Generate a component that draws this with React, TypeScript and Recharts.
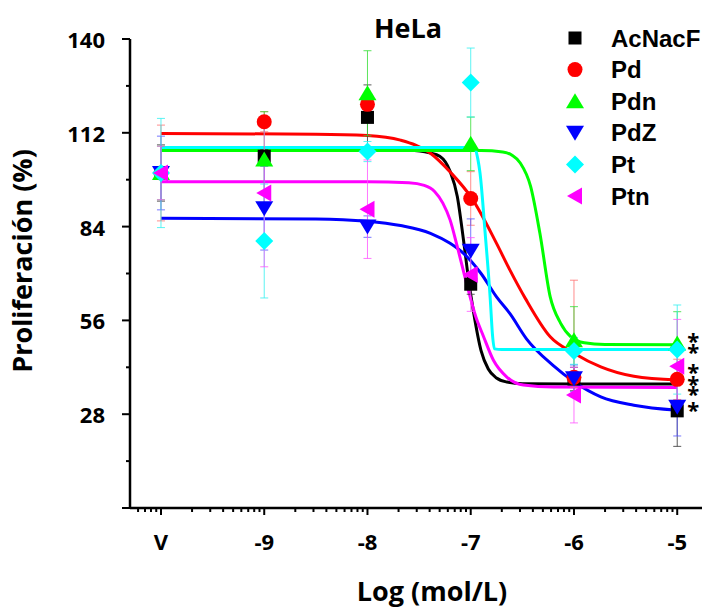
import React from 'react';
import { ComposedChart, Line, Scatter, XAxis, YAxis, ErrorBar } from 'recharts';

// log concentration (V = vehicle, drawn at -10)
const doses = [-10, -9, -8, -7, -6, -5];
const xTickLabels = ['V', '-9', '-8', '-7', '-6', '-5'];
const yMajorTicks = [0, 28, 56, 84, 112, 140];
const yMinorTicks = [14, 42, 70, 98, 126];

// means and SEM per dose ([below, above] where the bar is lopsided)
const acnacfMean = [100, 105, 116.6, 66.8, 38.5, 29];
const acnacfErr = [8.4, 2, 9.7, 3, 3.5, 10.6];
const pdMean = [100, 115.3, 120.5, 92.4, 39, 38.4];
const pdErr: (number | number[])[] = [14.3, 3, 3, 8, [3, 29], 6];
const pdnMean = [100, 104, 123.8, 108.7, 50.1, 49.1];
const pdnErr = [8, 14.3, 12.7, 8, 10, 9.5];
const pdzMean = [100, 89.5, 84, 76.8, 38.7, 30.2];
const pdzErr = [11, 12.5, 3.2, 9.5, 4, 8.7];
const ptMean = [100, 79.7, 106.4, 127, 46.9, 47.3];
const ptErr = [16.3, 17, 3, 10.3, 4, 13.3];
const ptnMean = [100, 94, 89.2, 69.7, 33.7, 42.3];
const ptnErr = [8, 22, 14.7, 11, 8.3, 14];

// fitted curves
const acnacfCurve = [[-10, 107], [-8, 107], [-7.6, 106.8], [-7.4, 106], [-7.3, 105], [-7.2, 100.5], [-7.13, 93], [-7.07, 80], [-7.02, 68], [-6.97, 58], [-6.9, 47], [-6.83, 41.5], [-6.75, 38.8], [-6.65, 37.6], [-6.5, 37.1], [-6, 37], [-5, 37]];
const pdCurve = [[-10, 111.8], [-8.5, 111.6], [-8, 111.2], [-7.68, 109.8], [-7.39, 105.9], [-7.19, 100], [-6.99, 92.5], [-6.75, 79], [-6.62, 71], [-6.47, 62.5], [-6.23, 51.1], [-6, 46.2], [-5.74, 42.1], [-5.42, 39.3], [-5, 38.2]];
const pdnCurve = [[-10, 106.7], [-6.9, 106.7], [-6.69, 106.3], [-6.6, 105.3], [-6.52, 103], [-6.42, 96], [-6.33, 82], [-6.23, 63], [-6.13, 55.2], [-6.03, 51.1], [-5.9, 49.3], [-5.7, 48.8], [-5, 48.7]];
const pdzCurve = [[-10, 86.5], [-8.5, 86.3], [-8, 85.6], [-7.68, 84.3], [-7.39, 82], [-7.2, 79], [-7.07, 76], [-6.9, 70], [-6.75, 63], [-6.62, 58], [-6.46, 50.5], [-6.2, 42.5], [-6, 37.7], [-5.74, 33.2], [-5.42, 30.7], [-5, 29.2]];
const ptCurve = [[-10, 107.6], [-7, 107.6], [-6.96, 107.3], [-6.93, 104], [-6.91, 100], [-6.86, 82], [-6.81, 62], [-6.79, 52], [-6.77, 47.5], [-6.7, 47.3], [-5, 47.3]];
const ptnCurve = [[-10, 97.4], [-8, 97.4], [-7.6, 97.1], [-7.45, 96.3], [-7.35, 94.5], [-7.27, 91], [-7.2, 86], [-7.13, 78], [-7.04, 67], [-6.95, 57], [-6.88, 51.5], [-6.78, 44.1], [-6.65, 39.1], [-6.49, 36.7], [-6.2, 36.1], [-5, 36]];

// significance marks next to the last dose
const starLevels = [51, 47.7, 41.7, 38.1, 35.1, 30.4];

const series = [
  { name: 'AcNacF', color: '#000000', errColor: '#333333', kind: 'square', mean: acnacfMean, err: acnacfErr, curve: acnacfCurve },
  { name: 'Pd', color: '#ff0000', errColor: '#ff7070', kind: 'circle', mean: pdMean, err: pdErr, curve: pdCurve },
  { name: 'Pdn', color: '#00ff00', errColor: '#33dd33', kind: 'up', mean: pdnMean, err: pdnErr, curve: pdnCurve },
  { name: 'PdZ', color: '#0000ff', errColor: '#5555ff', kind: 'down', mean: pdzMean, err: pdzErr, curve: pdzCurve },
  { name: 'Pt', color: '#00ffff', errColor: '#33f0f0', kind: 'diamond', mean: ptMean, err: ptErr, curve: ptCurve },
  { name: 'Ptn', color: '#ff00ff', errColor: '#ff55ff', kind: 'left', mean: ptnMean, err: ptnErr, curve: ptnCurve },
];

const xMinorTicks: number[] = [];
for (let d = -11; d <= -5; d++) {
  for (let k = 2; k <= 9; k++) {
    const v = d + Math.log10(k);
    if (v > -10.3 && v < -4.76) xMinorTicks.push(v);
  }
}

const FONT = '"Open Sans", sans-serif';

function Marker({ kind, cx, cy, color }: any) {
  switch (kind) {
    case 'square':
      return <rect x={cx - 6.5} y={cy - 6.5} width={13} height={13} fill={color} />;
    case 'circle':
      return <circle cx={cx} cy={cy} r={7.5} fill={color} />;
    case 'up':
      return <polygon points={`${cx - 9},${cy + 7} ${cx + 9},${cy + 7} ${cx},${cy - 8}`} fill={color} />;
    case 'down':
      return <polygon points={`${cx - 9},${cy - 7} ${cx + 9},${cy - 7} ${cx},${cy + 8}`} fill={color} />;
    case 'diamond':
      return <polygon points={`${cx},${cy - 9} ${cx + 9},${cy} ${cx},${cy + 9} ${cx - 9},${cy}`} fill={color} />;
    case 'left':
      return <polygon points={`${cx + 7},${cy - 8.5} ${cx + 7},${cy + 8.5} ${cx - 8},${cy}`} fill={color} />;
    default:
      return null;
  }
}

const XTick = ({ x, y, payload }: any) => {
  const idx = doses.indexOf(payload.value);
  const major = idx >= 0;
  return (
    <g>
      <line x1={x} x2={x} y1={y} y2={y + (major ? 7 : 4)} stroke="#000" strokeWidth={2} />
      {major && (
        <text x={x} y={y + 42} textAnchor="middle" fontFamily={FONT} fontWeight={700} fontSize={22} fill="#000">
          {xTickLabels[idx]}
        </text>
      )}
    </g>
  );
};

const YTick = ({ x, y, payload }: any) => {
  const v = payload.value;
  const major = yMajorTicks.includes(v);
  return (
    <g>
      <line x1={x - (major ? 8 : 4)} x2={x} y1={y} y2={y} stroke="#000" strokeWidth={2} />
      {major && v > 0 && (
        <text x={105} y={y + 9} textAnchor="end" fontFamily={FONT} fontWeight={700} fontSize={22} fill="#000">
          {v}
        </text>
      )}
    </g>
  );
};

const StarMark = ({ cx, cy }: any) => (
  <text x={cx + 16} y={cy + 12} textAnchor="middle" fontFamily={FONT} fontWeight={700} fontSize={22} fill="#000">
    *
  </text>
);

export default function App() {
  const starData = starLevels.map((y) => ({ x: doses[doses.length - 1], y }));
  return (
    <div style={{ position: 'absolute', left: 0, top: 0, width: 702, height: 609, background: '#fff' }}>
      <ComposedChart width={702} height={609} margin={{ top: 39, right: 0, bottom: 0, left: 0 }}>
        <XAxis
          type="number"
          dataKey="x"
          domain={[-10.3, -4.76]}
          allowDataOverflow
          ticks={[...doses, ...xMinorTicks].sort((a, b) => a - b)}
          interval={0}
          tick={<XTick />}
          tickLine={false}
          tickSize={0}
          tickMargin={0}
          height={101}
          axisLine={{ stroke: '#000', strokeWidth: 2.5 }}
          label={{
            content: () => (
              <text x={432} y={601} textAnchor="middle" fontFamily={FONT} fontWeight={700} fontSize={27} fill="#000">
                Log (mol/L)
              </text>
            ),
          }}
        />
        <YAxis
          type="number"
          dataKey="y"
          domain={[0, 140]}
          allowDataOverflow
          ticks={[...yMajorTicks, ...yMinorTicks].sort((a, b) => a - b)}
          interval={0}
          tick={<YTick />}
          tickLine={false}
          tickSize={0}
          tickMargin={0}
          width={130}
          axisLine={{ stroke: '#000', strokeWidth: 2.5 }}
          label={{
            content: () => (
              <text
                x={32}
                y={261}
                transform="rotate(-90 32 261)"
                textAnchor="middle"
                fontFamily={FONT}
                fontWeight={700}
                fontSize={27}
                fill="#000"
              >
                Proliferación (%)
              </text>
            ),
          }}
        />
        {series.map((s) => (
          <Line
            key={`fit-${s.name}`}
            data={s.curve.map(([x, y]) => ({ x, y }))}
            dataKey="y"
            type="monotone"
            stroke={s.color}
            strokeWidth={3}
            dot={false}
            activeDot={false}
            isAnimationActive={false}
            legendType="none"
          />
        ))}
        {series.map((s) => (
          <Scatter
            key={`pts-${s.name}`}
            name={s.name}
            data={doses.map((x, i) => ({ x, y: s.mean[i], err: s.err[i] }))}
            dataKey="y"
            isAnimationActive={false}
            shape={(p: any) => <Marker kind={s.kind} cx={p.cx} cy={p.cy} color={s.color} />}
          >
            <ErrorBar dataKey="err" direction="y" width={4} stroke={s.errColor} strokeWidth={1} strokeOpacity={0.8} isAnimationActive={false} />
          </Scatter>
        ))}
        <Scatter data={starData} dataKey="y" isAnimationActive={false} shape={<StarMark />} legendType="none" />
      </ComposedChart>
      <svg width={702} height={609} style={{ position: 'absolute', left: 0, top: 0, pointerEvents: 'none' }}>
        <text x={408} y={38} textAnchor="middle" fontFamily={FONT} fontWeight={700} fontSize={27} fill="#000">
          HeLa
        </text>
        {series.map((s, i) => {
          const cy = 38 + 31.6 * i;
          return (
            <g key={`leg-${s.name}`}>
              <Marker kind={s.kind} cx={575} cy={cy} color={s.color} />
              <text x={611} y={cy + 8.6} fontFamily='"Liberation Sans", Arial, sans-serif' fontWeight={700} fontSize={24} fill="#000">
                {s.name}
              </text>
            </g>
          );
        })}
      </svg>
    </div>
  );
}
